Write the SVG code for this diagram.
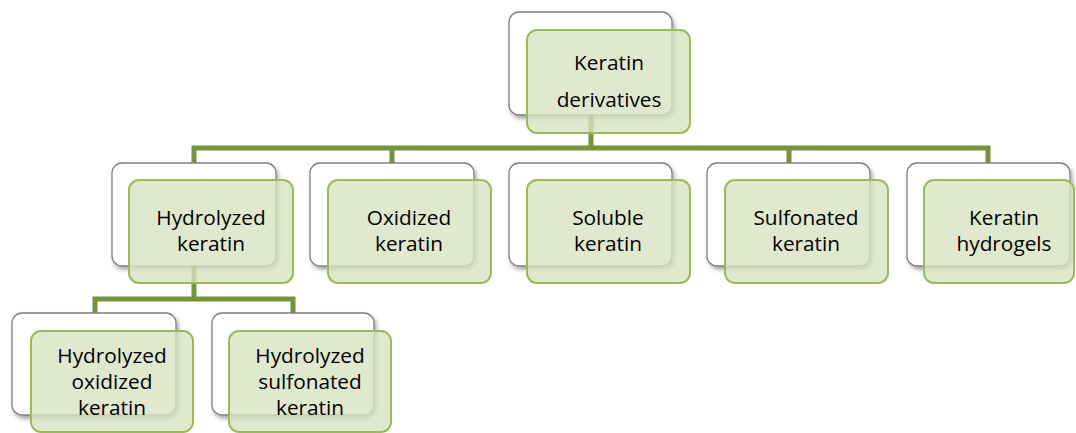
<svg xmlns="http://www.w3.org/2000/svg" width="1076" height="433" viewBox="0 0 1076 433">
<defs>
<filter id="sh" x="-10%" y="-10%" width="125%" height="130%">
<feDropShadow dx="2" dy="3" stdDeviation="2" flood-color="#000" flood-opacity="0.35"/>
</filter>
</defs>
<style>
.back{fill:#ffffff;stroke:#808080;stroke-width:1.3;filter:url(#sh)}
.front{fill:#d8e4c2;fill-opacity:0.8;stroke:#9bbb59;stroke-width:2}
.conn{fill:none;stroke:#77933c;stroke-width:5;stroke-linejoin:miter}
text{font-family:"Open Sans","Liberation Sans",sans-serif;font-size:20.8px;fill:#000;text-anchor:middle}
</style>
<rect width="1076" height="433" fill="#ffffff"/>
<g id="connectors">
<path class="conn" d="M591 115 V148 M194 163 V148 H988 V163 M392 148 V163 M789 148 V163"/>
<path class="conn" d="M194 266 V299 M95 313 V299 H293 V313"/>
</g>
<g id="keratin-derivatives">
<rect class="back" x="509" y="12" width="163" height="103" rx="10"/>
<rect class="front" x="527" y="30" width="163" height="103" rx="10"/>
<text x="609" y="70">Keratin</text>
<text x="609" y="107">derivatives</text>
</g>
<g id="hydrolyzed-keratin">
<rect class="back" x="112" y="163" width="164" height="103" rx="10"/>
<rect class="front" x="129" y="180" width="164" height="103" rx="10"/>
<text x="211" y="225">Hydrolyzed</text>
<text x="211" y="251">keratin</text>
</g>
<g id="oxidized-keratin">
<rect class="back" x="310" y="163" width="164" height="103" rx="10"/>
<rect class="front" x="328" y="180" width="163" height="103" rx="10"/>
<text x="409" y="225">Oxidized</text>
<text x="409" y="251">keratin</text>
</g>
<g id="soluble-keratin">
<rect class="back" x="509" y="163" width="163" height="103" rx="10"/>
<rect class="front" x="527" y="180" width="163" height="103" rx="10"/>
<text x="608" y="225">Soluble</text>
<text x="608" y="251">keratin</text>
</g>
<g id="sulfonated-keratin">
<rect class="back" x="707" y="163" width="163" height="103" rx="10"/>
<rect class="front" x="725" y="180" width="163" height="103" rx="10"/>
<text x="806" y="225">Sulfonated</text>
<text x="806" y="251">keratin</text>
</g>
<g id="keratin-hydrogels">
<rect class="back" x="907" y="163" width="163" height="103" rx="10"/>
<rect class="front" x="924" y="180" width="150" height="103" rx="10"/>
<text x="1004" y="225">Keratin</text>
<text x="1004" y="251">hydrogels</text>
</g>
<g id="hydrolyzed-oxidized-keratin">
<rect class="back" x="12" y="313" width="164" height="102" rx="10"/>
<rect class="front" x="31" y="331" width="162" height="101" rx="10"/>
<text x="112" y="363">Hydrolyzed</text>
<text x="112" y="389">oxidized</text>
<text x="112" y="415">keratin</text>
</g>
<g id="hydrolyzed-sulfonated-keratin">
<rect class="back" x="212" y="313" width="162" height="102" rx="10"/>
<rect class="front" x="229" y="331" width="162" height="101" rx="10"/>
<text x="310" y="363">Hydrolyzed</text>
<text x="310" y="389">sulfonated</text>
<text x="310" y="415">keratin</text>
</g>
</svg>
